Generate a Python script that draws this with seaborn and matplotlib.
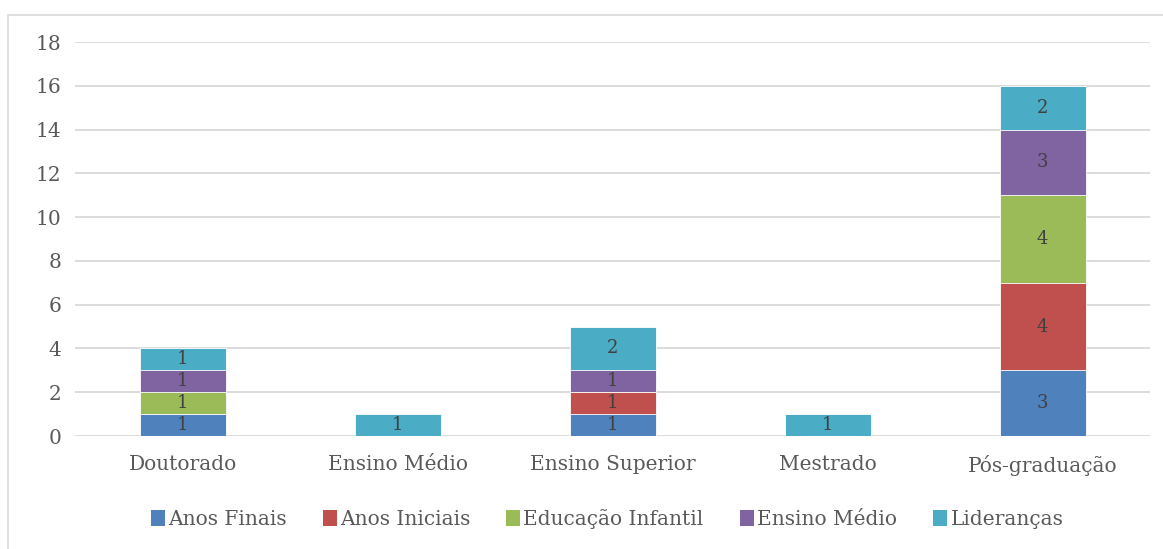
import matplotlib
matplotlib.use("Agg")
import matplotlib.pyplot as plt
from matplotlib.patches import Rectangle, Patch
import seaborn as sns
import pandas as pd
import numpy as np

categories = ["Doutorado", "Ensino Médio", "Ensino Superior", "Mestrado", "Pós-graduação"]
series_names = ["Anos Finais", "Anos Iniciais", "Educação Infantil", "Ensino Médio", "Lideranças"]
anos_finais = [1, 0, 1, 0, 3]
anos_iniciais = [0, 0, 1, 0, 4]
educacao_infantil = [1, 0, 0, 0, 4]
ensino_medio = [1, 0, 1, 0, 3]
liderancas = [1, 1, 2, 1, 2]
y_ticks = [0, 2, 4, 6, 8, 10, 12, 14, 16, 18]

colors = ["#4F81BD", "#C0504D", "#9BBB59", "#8064A2", "#4BACC6"]
text_gray = "#595959"
label_gray = "#404040"

sns.set_theme(style="white")
plt.rcParams["font.family"] = ["DejaVu Serif", "Liberation Serif"]

values = np.array([anos_finais, anos_iniciais, educacao_infantil, ensino_medio, liderancas], dtype=float)
tops = np.cumsum(values, axis=0)
bottoms = tops - values

fig = plt.figure(figsize=(11.63, 5.49), dpi=100)
W, H = 1163, 549
ax = fig.add_axes([75 / W, (H - 436) / H, (1150 - 75) / W, (436 - 42) / H])

# chart frame
fig.patches.append(Rectangle((8 / W, -0.01), 1.0, (H - 15) / H + 0.01, transform=fig.transFigure,
                             fill=False, edgecolor="#d9d9d9", linewidth=1.2, zorder=0))

# stacked bars: draw cumulative totals from the top series down
for i in range(len(series_names) - 1, -1, -1):
    df = pd.DataFrame({"category": categories, "top": tops[i]})
    sns.barplot(data=df, x="category", y="top", order=categories, color=colors[i],
                width=0.4, saturation=1, edgecolor="#ffffff", linewidth=0.6, ax=ax, zorder=3)

# value labels centred in each segment
for i in range(len(series_names)):
    for j in range(len(categories)):
        v = values[i, j]
        if v > 0:
            ax.text(j, bottoms[i, j] + v / 2, f"{int(v)}", ha="center", va="center",
                    fontsize=13, color=label_gray, zorder=5)

ax.set_xlim(-0.5, len(categories) - 0.5)
ax.set_ylim(0, 18)
ax.set_yticks(y_ticks)
ax.set_xlabel("")
ax.set_ylabel("")
ax.yaxis.grid(True, color="#d9d9d9", linewidth=1.3, zorder=0)
ax.set_axisbelow(True)
for s in ax.spines.values():
    s.set_visible(False)
ax.tick_params(axis="both", length=0, labelsize=14.5, labelcolor=text_gray)
ax.tick_params(axis="y", pad=10)
ax.tick_params(axis="x", pad=14)

handles = [Patch(facecolor=c, edgecolor="none") for c in colors]
fig.legend(handles, series_names, loc="center", bbox_to_anchor=(607 / W, (H - 519) / H),
           ncol=5, frameon=False, fontsize=14.5, labelcolor=text_gray,
           handlelength=0.7, handleheight=0.8, handletextpad=0.15, columnspacing=1.8)

fig.savefig("out.png", dpi=100, facecolor="white")
